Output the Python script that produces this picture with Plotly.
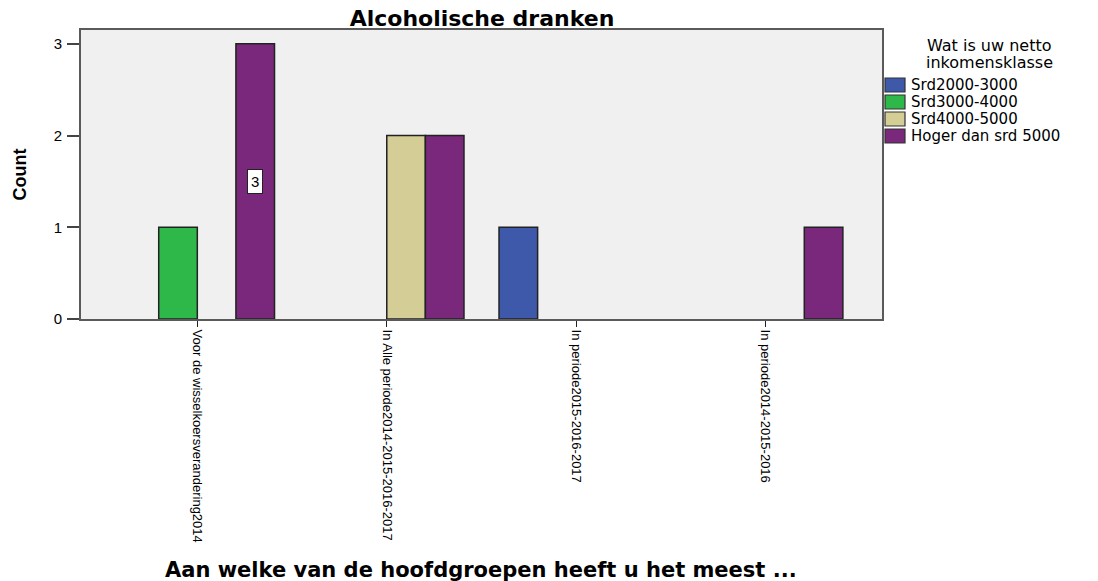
import plotly.graph_objects as go

categories = [
    "Voor de wisselkoersverandering2014",
    "In Alle periode2014-2015-2016-2017",
    "In periode2015-2016-2017",
    "In periode2014-2015-2016",
]
series_names = ["Srd2000-3000", "Srd3000-4000", "Srd4000-5000", "Hoger dan srd 5000"]
srd2000_3000 = [None, None, 1, None]
srd3000_4000 = [1, None, None, None]
srd4000_5000 = [None, 2, None, None]
hoger_5000 = [3, 2, None, 1]
colors = ["#3E59AA", "#2EB84A", "#D4CD96", "#7A287B"]
legend_title_lines = ["Wat is uw netto", "inkomensklasse"]

series_values = [srd2000_3000, srd3000_4000, srd4000_5000, hoger_5000]

W, H = 1098, 581
ML, MR, MT, MB = 81, 216, 30, 262
X_RANGE = [-0.614, 3.614]
Y_RANGE = [0, 3.15]
BARGAP = 0.185
PW = W - ML - MR
PH = H - MT - MB


def px_x(px):
    return (px - ML) / PW


def px_y(py):
    return (H - MB - py) / PH


fig = go.Figure()
for name, vals, col in zip(series_names, series_values, colors):
    fig.add_trace(go.Bar(
        name=name, x=categories, y=vals, showlegend=False,
        marker=dict(color=col, line=dict(color="#222", width=1.5)),
    ))

# data label "3" on the purple bar of the first category
px_per_unit = PW / (X_RANGE[1] - X_RANGE[0])
bar_w = (1 - BARGAP) / len(series_names)
offset_units = (3 - (len(series_names) - 1) / 2) * bar_w
fig.add_annotation(
    x=categories[0], y=hoger_5000[0] / 2, xref="x", yref="y",
    xshift=offset_units * px_per_unit,
    text="3", showarrow=False,
    font=dict(family="Liberation Sans, Arial", size=15, color="#000"),
    bgcolor="white", bordercolor="#222", borderwidth=1, borderpad=3,
)

# x-axis title
fig.add_annotation(
    x=px_x(481), y=0, xref="paper", yref="paper", yshift=-251,
    text="<b>Aan welke van de hoofdgroepen heeft u het meest ...</b>",
    showarrow=False, yanchor="middle", xanchor="center",
    font=dict(family="DejaVu Sans", size=21, color="#000"),
)

# legend (drawn as swatches + labels to the right of the plot)
for j, line in enumerate(legend_title_lines):
    fig.add_annotation(
        x=px_x(989), y=px_y(45 + 17 * j), xref="paper", yref="paper",
        text=line, showarrow=False, xanchor="center", yanchor="middle",
        font=dict(family="DejaVu Sans", size=16, color="#000"),
    )
for i, (name, col) in enumerate(zip(series_names, colors)):
    cy = 85 + 17 * i
    fig.add_shape(
        type="rect", xref="paper", yref="paper",
        x0=px_x(885), x1=px_x(905), y0=px_y(cy - 7), y1=px_y(cy + 7),
        fillcolor=col, line=dict(color="#333", width=1.2),
    )
    fig.add_annotation(
        x=px_x(909), y=px_y(cy), xref="paper", yref="paper",
        text=name, showarrow=False, xanchor="left", yanchor="middle",
        font=dict(family="DejaVu Sans", size=15, color="#000"),
    )

fig.update_layout(
    width=W, height=H,
    margin=dict(l=ML, r=MR, t=MT, b=MB, pad=0, autoexpand=False),
    paper_bgcolor="white", plot_bgcolor="#F0F0F0",
    barmode="group", bargap=BARGAP, bargroupgap=0,
    title=dict(text="<b>Alcoholische dranken</b>", x=px_x(482), xref="paper",
               xanchor="center",
               y=1 - 18 / H, yanchor="middle",
               font=dict(family="DejaVu Sans", size=22, color="#000")),
    showlegend=False,
    xaxis=dict(
        range=X_RANGE, showline=True, linecolor="#5a5a5a", linewidth=2,
        mirror=True, ticks="outside", ticklen=6, tickcolor="#222",
        tickangle=90, showgrid=False, zeroline=False, automargin=False,
        tickfont=dict(family="Liberation Sans, Arial", size=13, color="#000"),
    ),
    yaxis=dict(
        range=Y_RANGE, showline=True, linecolor="#5a5a5a", linewidth=2,
        mirror=True, ticks="outside", ticklen=12, tickcolor="#444",
        tickwidth=1.5,
        tickvals=[0, 1, 2, 3], showgrid=False, zeroline=False, automargin=False,
        ticklabelstandoff=2,
        tickfont=dict(family="Liberation Sans, Arial", size=15, color="#000"),
        title=dict(text="<b>Count</b>", standoff=22,
                   font=dict(family="Liberation Sans Narrow, Liberation Sans, Arial", size=18, color="#000")),
    ),
)

fig.write_html(
    "out.html",
    config={"displayModeBar": False},
    post_script="document.body.style.margin='0';document.body.style.overflow='hidden';",
)
